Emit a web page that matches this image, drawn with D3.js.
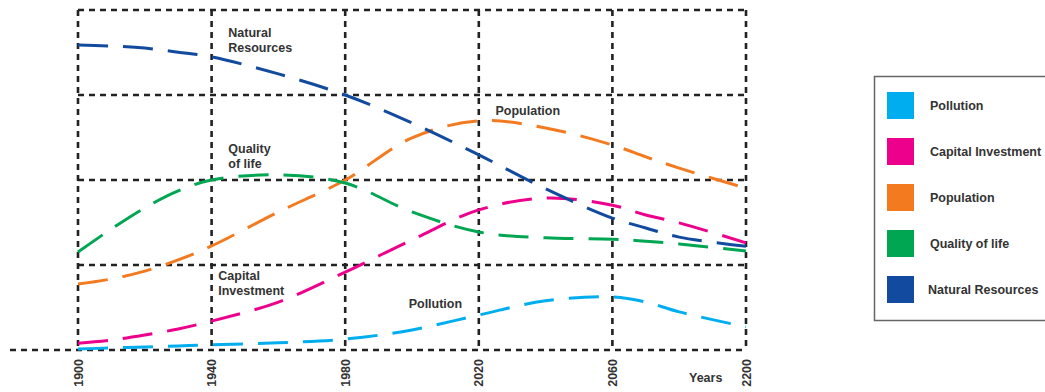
<!DOCTYPE html>
<html>
<head>
<meta charset="utf-8">
<script src="https://cdn.jsdelivr.net/npm/d3@7"></script>
<style>
  body { margin: 0; background: #fff; }
  text { font-family: "Liberation Sans", Arial, sans-serif; font-weight: bold; fill: #333; }
</style>
</head>
<body>
<div id="chart"></div>
<script>
// years sampled along the curves
const years = [1900, 1910, 1920, 1930, 1940, 1960, 1980, 2000, 2020, 2040, 2060, 2095, 2130, 2200];
const tickYears = [1900, 1940, 1980, 2020, 2060, 2200];
const gridLevels = [0, 25, 50, 75, 100];

const pollution = [0.3, 0.6, 0.9, 1.2, 1.5, 2.1, 3.2, 5.9, 10.3, 14.5, 15.6, 14.1, 11.2, 6.8];
const capital = [2, 2.9, 4.4, 6.2, 8.5, 14.1, 22.9, 32.4, 41.2, 44.7, 42.6, 39.7, 37.4, 31.5];
const population = [19.4, 20.9, 23.2, 26.5, 30.6, 40.6, 50, 62.4, 67.4, 65.3, 60.3, 56.8, 53.5, 47.6];
const quality = [28.8, 35.6, 41.8, 46.8, 50, 51.5, 49.1, 40.6, 34.7, 33, 32.6, 32, 31.2, 29.1];
const resources = [89.7, 89.4, 88.8, 87.6, 86.2, 81.2, 75, 66.8, 57.4, 47.4, 38.8, 35.9, 33.2, 30.5];

const seriesNames = ["Pollution", "Capital Investment", "Population", "Quality of life", "Natural Resources"];
const seriesColors = ["#00aeef", "#ec008c", "#f47a20", "#00a651", "#114a9f"];
const seriesValues = [pollution, capital, population, quality, resources];

const labels = [
  { lines: ["Natural", "Resources"], year: 1945, v: 92 },
  { lines: ["Quality", "of life"], year: 1945, v: 58 },
  { lines: ["Population"], year: 2025, v: 69 },
  { lines: ["Capital", "Investment"], year: 1942, v: 20.5 },
  { lines: ["Pollution"], year: 1999, v: 12.5 }
];

const width = 1045, height = 392;

const svg = d3.select('#chart')
  .append('svg')
  .attr('width', width)
  .attr('height', height);

// years are evenly spaced by label, so the scale is piecewise
const x = d3.scaleLinear()
  .domain(tickYears)
  .range([78, 211.6, 345.2, 478.8, 612.4, 746]);

const y = d3.scaleLinear()
  .domain([0, 100])
  .range([350, 10]);

const grid = svg.append('g')
  .attr('stroke', '#222')
  .attr('stroke-width', 2.6)
  .attr('stroke-dasharray', '6,5')
  .attr('fill', 'none');

grid.selectAll('line.h')
  .data(gridLevels)
  .enter()
  .append('line')
  .attr('x1', d => d === 0 ? 10 : x(1900))
  .attr('x2', x(2200))
  .attr('y1', d => y(d))
  .attr('y2', d => y(d));

grid.selectAll('line.v')
  .data(tickYears)
  .enter()
  .append('line')
  .attr('x1', d => x(d))
  .attr('x2', d => x(d))
  .attr('y1', y(100))
  .attr('y2', y(0));

// year labels, rotated
svg.selectAll('text.tick')
  .data(tickYears)
  .enter()
  .append('text')
  .attr('transform', d => `translate(${x(d)},359) rotate(-90)`)
  .attr('text-anchor', 'end')
  .attr('dy', '0.36em')
  .style('font-size', '12.5px')
  .text(d => d);

svg.append('text')
  .attr('x', 689)
  .attr('y', 382)
  .style('font-size', '12.5px')
  .text('Years');

const line = d3.line()
  .x((d, i) => x(years[i]))
  .y(d => y(d))
  .curve(d3.curveCatmullRom.alpha(0.5));

svg.selectAll('path.series')
  .data(seriesValues)
  .enter()
  .append('path')
  .attr('d', d => line(d))
  .attr('fill', 'none')
  .attr('stroke', (d, i) => seriesColors[i])
  .attr('stroke-width', 3)
  .attr('stroke-dasharray', '30,15');

// curve labels
labels.forEach(l => {
  const t = svg.append('text')
    .attr('x', x(l.year))
    .attr('y', y(l.v))
    .style('font-size', '12.5px');
  l.lines.forEach((s, i) => {
    t.append('tspan')
      .attr('x', x(l.year))
      .attr('dy', i ? 15 : 0)
      .text(s);
  });
});

// legend
const legend = svg.append('g');

legend.append('rect')
  .attr('x', 874.5)
  .attr('y', 76.5)
  .attr('width', 200)
  .attr('height', 244)
  .attr('fill', 'none')
  .attr('stroke', '#666')
  .attr('stroke-width', 1.5);

const items = legend.selectAll('g.item')
  .data(seriesNames)
  .enter()
  .append('g')
  .attr('transform', (d, i) => `translate(887,${92 + i * 46})`);

items.append('rect')
  .attr('width', 27)
  .attr('height', 27)
  .attr('fill', (d, i) => seriesColors[i]);

items.append('text')
  .attr('x', (d, i) => i === 4 ? 41 : 43)
  .attr('y', 13.5)
  .attr('dy', '0.35em')
  .style('font-size', '12.5px')
  .text(d => d);
</script>
</body>
</html>
